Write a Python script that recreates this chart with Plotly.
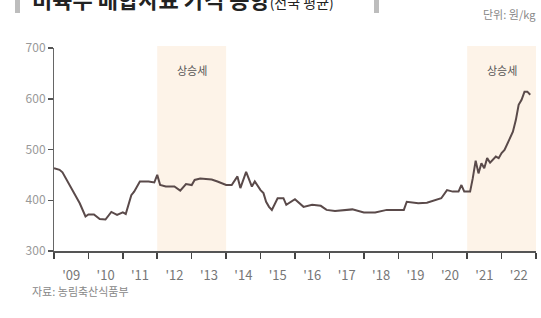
import plotly.graph_objects as go

# ---- data ----
dates = [
    "2009-01-01", "2009-03-01", "2009-04-01", "2009-07-01", "2009-10-01", "2009-12-01",
    "2010-01-01", "2010-03-01", "2010-05-01", "2010-07-01", "2010-09-01", "2010-11-01",
    "2011-01-01", "2011-02-01", "2011-04-01", "2011-05-01", "2011-07-01", "2011-10-01", "2011-12-01",
    "2012-01-01", "2012-02-01", "2012-04-01", "2012-07-01", "2012-09-01", "2012-11-01",
    "2013-01-01", "2013-02-01", "2013-04-01", "2013-08-01", "2013-10-01",
    "2014-01-01", "2014-03-01", "2014-05-01", "2014-06-01", "2014-07-01", "2014-08-01",
    "2014-10-01", "2014-11-01",
    "2015-01-01", "2015-02-01", "2015-03-01", "2015-04-01", "2015-05-01", "2015-07-01",
    "2015-09-01", "2015-10-01",
    "2016-01-01", "2016-02-01", "2016-04-01", "2016-07-01", "2016-10-01", "2016-12-01",
    "2017-03-01", "2017-09-01",
    "2018-01-01", "2018-05-01", "2018-09-01",
    "2019-01-01", "2019-03-01", "2019-04-01", "2019-08-01", "2019-11-01",
    "2020-03-01", "2020-04-01", "2020-06-01", "2020-08-01", "2020-10-01", "2020-11-01", "2020-12-01",
    "2021-02-01", "2021-03-01", "2021-04-01", "2021-05-01", "2021-06-01", "2021-07-01",
    "2021-08-01", "2021-09-01", "2021-11-01", "2021-12-01",
    "2022-01-01", "2022-02-01", "2022-04-01", "2022-05-01", "2022-06-01", "2022-07-01",
    "2022-08-01", "2022-09-01", "2022-10-01", "2022-11-01",
]
prices = [
    463, 460, 455, 424, 394, 368,
    372, 372, 363, 362, 377, 371,
    376, 373, 410, 417, 437, 437, 435,
    450, 430, 427, 427, 419, 432,
    430, 440, 443, 441, 437,
    430, 430, 447, 424, 440, 456,
    427, 437,
    420, 414, 397, 387, 381, 404,
    404, 391,
    402, 397, 387, 391, 389, 381,
    379, 382,
    376, 376, 381,
    381, 381, 397, 394, 395,
    401, 404, 420, 417, 417, 430, 417,
    417, 443, 478, 453, 473, 463,
    483, 474, 486, 483,
    493, 499, 522, 535, 558, 588,
    598, 614, 614, 608,
]

rise_starts = ["2012-01-01", "2021-01-01"]
rise_ends = ["2014-01-01", "2023-01-01"]
rise_mid = ["2013-01-01", "2022-01-01"]
rise_label = "상승세"

title_main = "비육우 배합사료 가격 동향"
title_sub = "(전국 평균)"
unit_text = "단위: 원/kg"
source_text = "자료: 농림축산식품부"

FONT = "Noto Sans CJK KR, Noto Sans, sans-serif"

fig = go.Figure()

fig.add_trace(go.Scatter(
    x=dates, y=prices, mode="lines",
    line=dict(color="#5a4a4a", width=2),
    hoverinfo="skip", showlegend=False,
))

shapes = []
annotations = []
for s, e, m in zip(rise_starts, rise_ends, rise_mid):
    shapes.append(dict(type="rect", xref="x", yref="paper", x0=s, x1=e, y0=0, y1=1.01,
                       fillcolor="#fdf3e8", line=dict(width=0), layer="below"))
    annotations.append(dict(x=m, y=0.94, xref="x", yref="paper", text=rise_label,
                            showarrow=False, font=dict(family=FONT, size=11, color="#555555")))

# partially cropped title at top (pixel positions, converted below)
annotations.append(dict(x=30, y=-2, xref="paper", yref="paper", xanchor="left", yanchor="middle",
                        text="<b>" + title_main + "</b><span style='font-size:14px'>" + title_sub + "</span>",
                        showarrow=False, font=dict(family=FONT, size=22, color="#222222")))
annotations.append(dict(x=538, y=14, xref="paper", yref="paper", xanchor="right", yanchor="middle",
                        text=unit_text, showarrow=False,
                        font=dict(family=FONT, size=11, color="#888888")))
annotations.append(dict(x=30, y=291, xref="paper", yref="paper", xanchor="left", yanchor="middle",
                        text=source_text, showarrow=False,
                        font=dict(family=FONT, size=11, color="#888888")))

W, H = 541, 318
ml, mr, mt, mb = 54, 5, 48, 67
pw, ph = W - ml - mr, H - mt - mb
for a in annotations[-3:]:
    a["x"] = (a["x"] - ml) / pw
    a["y"] = (H - mb - a["y"]) / ph

# left/right bars of the title (cropped)
bar_y0 = (H - mb - 13) / ph
bar_y1 = (H - mb + 5) / ph
for bx in (15, 374):
    shapes.append(dict(type="rect", xref="paper", yref="paper",
                       x0=(bx - ml) / pw, x1=(bx + 5 - ml) / pw, y0=bar_y0, y1=bar_y1,
                       fillcolor="#bdbdbd", line=dict(width=0)))

fig.update_layout(
    width=W, height=H,
    margin=dict(l=ml, r=mr, t=mt, b=mb),
    paper_bgcolor="white", plot_bgcolor="white",
    font=dict(family=FONT),
    shapes=shapes, annotations=annotations,
    xaxis=dict(
        type="date", range=["2009-01-01", "2023-01-01"],
        dtick="M12", tick0="2009-01-01", ticklabelmode="period", tickformat="'%y",
        ticks="outside", ticklen=6, tickwidth=1.5, tickcolor="#444444",
        ticklabelstandoff=6,
        showline=True, linecolor="#555555", linewidth=1.5,
        showgrid=False, zeroline=False,
        tickfont=dict(family=FONT, size=13, color="#777777"),
    ),
    yaxis=dict(
        range=[300, 700], dtick=100,
        ticks="outside", ticklen=5, tickwidth=1.5, tickcolor="#555555",
        showline=True, linecolor="#666666", linewidth=1,
        showgrid=False, zeroline=False,
        tickfont=dict(family=FONT, size=12, color="#999999"),
    ),
)

fig.write_html("out.html", config={"displayModeBar": False, "staticPlot": True},
               post_script="document.body.style.margin='0';document.body.style.padding='0';")
